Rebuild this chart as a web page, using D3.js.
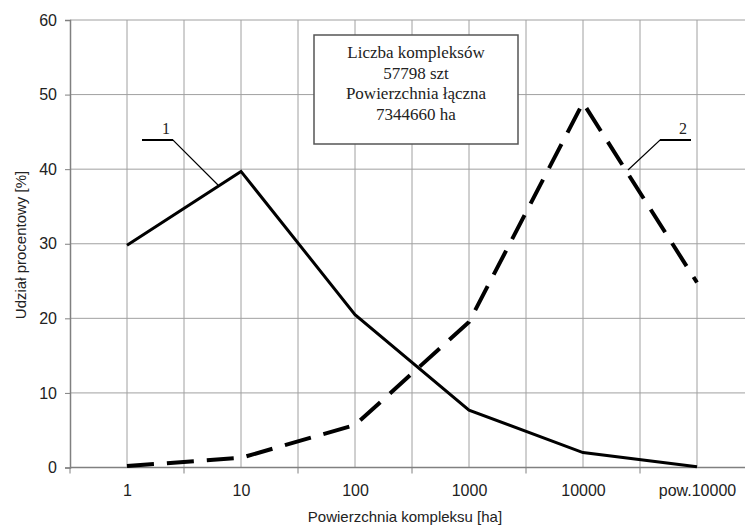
<!DOCTYPE html>
<html>
<head>
<meta charset="utf-8">
<script src="https://cdn.jsdelivr.net/npm/d3@7"></script>
<style>
  body { margin: 0; background: #fff; }
  svg { display: block; }
</style>
</head>
<body>
<svg id="viz" width="745" height="529"></svg>
<script>
// chart data
var categories = ["1", "10", "100", "1000", "10000", "pow.10000"];
var series1 = [29.8, 39.7, 20.5, 7.7, 2.0, 0.1];   // linia ciągła
var series2 = [0.2, 1.3, 5.7, 19.5, 48.9, 24.8];   // linia przerywana
var yTicks = [0, 10, 20, 30, 40, 50, 60];
var infoLines = ["Liczba kompleksów", "57798 szt", "Powierzchnia łączna", "7344660 ha"];

var sans = "Liberation Sans, Arial, sans-serif";
var serif = "Liberation Serif, Times New Roman, serif";

var svg = d3.select("#viz");
var margin = { left: 70, top: 20, right: 754, bottom: 467.5 };

var x = d3.scalePoint().domain(categories).range([127, 697]);
var step = x.step();
var y = d3.scaleLinear().domain([0, 60]).range([margin.bottom, margin.top]);

var grid = svg.append("g").attr("class", "grid");

// horizontal gridlines
grid.selectAll("line.h")
    .data(yTicks)
    .enter()
    .append("line")
    .attr("class", "h")
    .attr("x1", margin.left).attr("x2", margin.right)
    .attr("y1", function (d) { return y(d); })
    .attr("y2", function (d) { return y(d); })
    .attr("stroke", "#a0a0a0")
    .attr("stroke-width", 1);

// vertical gridlines at categories and band boundaries
var vlines = [];
categories.forEach(function (c) {
    vlines.push(x(c));
    vlines.push(x(c) + step / 2);
});
grid.selectAll("line.v")
    .data(vlines)
    .enter()
    .append("line")
    .attr("class", "v")
    .attr("x1", function (d) { return d; })
    .attr("x2", function (d) { return d; })
    .attr("y1", margin.top).attr("y2", margin.bottom)
    .attr("stroke", "#a0a0a0")
    .attr("stroke-width", 1);

// axes
var yAxis = d3.axisLeft(y).tickValues(yTicks).tickSize(5).tickPadding(8);
var gy = svg.append("g").attr("transform", "translate(" + margin.left + ",0)").call(yAxis);
gy.select(".domain").attr("stroke", "#808080").attr("stroke-width", 1.5);
gy.selectAll(".tick line").attr("stroke", "#808080");
gy.selectAll("text")
    .style("font-family", sans)
    .style("font-size", "16px")
    .attr("fill", "#222");

var xAxis = d3.axisBottom(x).tickSize(0).tickPadding(17);
var gx = svg.append("g").attr("transform", "translate(0," + margin.bottom + ")").call(xAxis);
gx.select(".domain").remove();
gx.selectAll("text")
    .style("font-family", sans)
    .style("font-size", "16px")
    .attr("fill", "#222");

svg.append("line")
    .attr("x1", margin.left).attr("x2", margin.right)
    .attr("y1", margin.bottom).attr("y2", margin.bottom)
    .attr("stroke", "#808080").attr("stroke-width", 1.5);

// tick marks at band boundaries below x axis
svg.append("g").selectAll("line")
    .data([margin.left].concat(categories.map(function (c) { return x(c) + step / 2; })))
    .enter()
    .append("line")
    .attr("x1", function (d) { return d; })
    .attr("x2", function (d) { return d; })
    .attr("y1", margin.bottom).attr("y2", margin.bottom + 6)
    .attr("stroke", "#808080");

// axis titles
svg.append("text")
    .attr("transform", "translate(26,245) rotate(-90)")
    .attr("text-anchor", "middle")
    .style("font-family", sans)
    .style("font-size", "15px")
    .attr("fill", "#222")
    .text("Udział procentowy [%]");

svg.append("text")
    .attr("x", 405).attr("y", 522)
    .attr("text-anchor", "middle")
    .style("font-family", sans)
    .style("font-size", "15px")
    .attr("fill", "#222")
    .text("Powierzchnia kompleksu [ha]");

// series lines
var line = d3.line()
    .x(function (d, i) { return x(categories[i]); })
    .y(function (d) { return y(d); });

svg.append("path")
    .datum(series1)
    .attr("d", line)
    .attr("fill", "none")
    .attr("stroke", "#000")
    .attr("stroke-width", 3)
    .attr("stroke-linejoin", "miter");

svg.append("path")
    .datum(series2)
    .attr("d", line)
    .attr("fill", "none")
    .attr("stroke", "#000")
    .attr("stroke-width", 4)
    .attr("stroke-dasharray", "27,13");

// callout labels
function callout(pts, label, lx, ly) {
    svg.append("path")
        .attr("d", d3.line()(pts))
        .attr("fill", "none")
        .attr("stroke", "#000")
        .attr("stroke-width", 1.2);
    svg.append("line")
        .attr("x1", pts[0][0]).attr("x2", pts[1][0])
        .attr("y1", pts[0][1]).attr("y2", pts[1][1])
        .attr("stroke", "#000").attr("stroke-width", 2);
    svg.append("text")
        .attr("x", lx).attr("y", ly)
        .attr("text-anchor", "middle")
        .style("font-family", serif)
        .style("font-size", "16px")
        .attr("fill", "#222")
        .text(label);
}
callout([[142, 140], [173, 140], [218, 185]], "1", 166, 134);
callout([[691, 140], [660, 140], [628, 170]], "2", 683, 134);

// info box
svg.append("rect")
    .attr("x", 314).attr("y", 35)
    .attr("width", 204).attr("height", 109)
    .attr("fill", "#fff")
    .attr("stroke", "#555")
    .attr("stroke-width", 1.5);

svg.append("g").selectAll("text")
    .data(infoLines)
    .enter()
    .append("text")
    .attr("x", 416)
    .attr("y", function (d, i) { return 58 + i * 20.5; })
    .attr("text-anchor", "middle")
    .style("font-family", serif)
    .style("font-size", "17px")
    .attr("fill", "#222")
    .text(function (d) { return d; });
</script>
</body>
</html>
